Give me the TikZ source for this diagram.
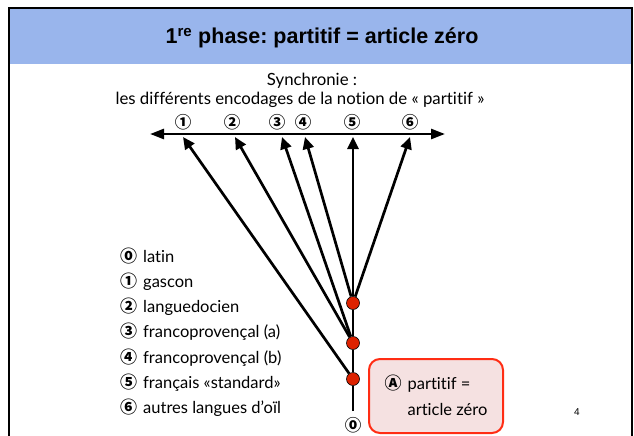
\documentclass[tikz,border=0pt]{standalone}
\usepackage{fontspec}
\setmainfont{Lato}[Ligatures=NoCommon]
\newfontfamily\titlefont{Liberation Sans}
\newfontfamily\circfont{Noto Sans CJK JP}
\usetikzlibrary{arrows.meta,positioning}
\definecolor{headerblue}{RGB}{153,181,236}
\definecolor{dotred}{RGB}{221,34,0}
\definecolor{boxred}{RGB}{255,45,20}
\definecolor{boxpink}{RGB}{245,225,225}
\newcommand{\cnum}[1]{{\circfont\bfseries\fontsize{17}{17}\selectfont #1}\hspace{6pt}}
\tikzset{
        branch/.style={
            draw, line width=2.7pt,
            -{Triangle[length=12pt,width=11pt]}
        },
        axis/.style={
            draw, line width=2.7pt,
            {Triangle[length=14pt,width=10pt]}-{Triangle[length=14pt,width=10pt]}
        },
        junction/.style={
            circle, draw=black, line width=0.6pt,
            fill=dotred, minimum size=13pt, inner sep=0pt
        },
        number/.style={
            inner sep=0pt, font=\circfont\bfseries\fontsize{16.5}{17}\selectfont
        },
        item/.style={
            anchor=west, inner sep=0pt,
            text height=12pt, text depth=4pt,
            font=\fontsize{16.5}{18}\selectfont
        },
        note/.style={
            rectangle, draw=boxred, line width=2pt,
            fill=boxpink, rounded corners=11pt,
            minimum width=134pt, minimum height=74pt,
            align=left, inner sep=5pt,
            font=\fontsize{16.5}{26}\selectfont
        }
    }

\begin{document}
\frenchspacing
\begin{tikzpicture}[x=1pt, y=-1pt]
    \useasboundingbox (0,0) rectangle (634,436);

    % frame and header
    \fill[headerblue] (9,8) rectangle (632,64);
    \draw[line width=2.5pt] (9,436) -- (9,8) -- (632,8) -- (632,436);
    \node[font=\titlefont\bfseries\fontsize{21.5}{24}\selectfont] (title) at (322,38)
        {1\textsuperscript{re} phase: partitif = article zéro};

    % synchrony axis
    \node[anchor=base, font=\fontsize{16.8}{18}\selectfont] (sync1) at (312,85) {Synchronie :};
    \node[anchor=base, font=\fontsize{16.8}{18}\selectfont] (sync2) at (300,104)
        {les différents encodages de la notion de « partitif »};
    \coordinate (axisL) at (150,134);
    \coordinate (axisR) at (445,134);
    \path[axis] (axisL) -- (axisR);

    \node[number] (n1) at (183,122) {①};
    \node[number] (n2) at (232,122) {②};
    \node[number] (n3) at (277,122) {③};
    \node[number] (n4) at (303,122) {④};
    \node[number] (n5) at (352,122) {⑤};
    \node[number] (n6) at (410,122) {⑥};

    \coordinate (t1) at (183,137);
    \coordinate (t2) at (235,137);
    \coordinate (t3) at (282,137);
    \coordinate (t4) at (305,137);
    \coordinate (t5) at (353,137);
    \coordinate (t6) at (410,137);

    % tree
    \coordinate (root) at (353,411);
    \node[junction] (d1) at (353,379) {};
    \node[junction] (d2) at (353,343) {};
    \node[junction] (d3) at (353,303) {};
    \node[number] (n0) at (353,425) {⓪};

    \draw[line width=2.7pt] (root) -- (d1) -- (d2) -- (d3);
    \path[branch] (d1) -- (t1);
    \path[branch] (d2) -- (t2);
    \path[branch] (d2) -- (t3);
    \path[branch] (d3) -- (t4);
    \path[branch] (d3) -- (t5);
    \path[branch] (d3) -- (t6);

    % legend
    \node[item] (l0) at (120,258) {\cnum{⓪}latin};
    \node[item, below=25.3pt of l0.west, anchor=west] (l1) {\cnum{①}gascon};
    \node[item, below=25.3pt of l1.west, anchor=west] (l2) {\cnum{②}languedocien};
    \node[item, below=25.3pt of l2.west, anchor=west] (l3) {\cnum{③}francoprovençal (a)};
    \node[item, below=25.3pt of l3.west, anchor=west] (l4) {\cnum{④}francoprovençal (b)};
    \node[item, below=25.3pt of l4.west, anchor=west] (l5) {\cnum{⑤}français «standard»};
    \node[item, below=25.3pt of l5.west, anchor=west] (l6) {\cnum{⑥}autres langues d’oïl};

    \node[note] (A) at (436,396)
        {\cnum{Ⓐ}partitif =\\\phantom{\cnum{Ⓐ}}article zéro};

    \node[font=\titlefont\fontsize{10}{12}\selectfont] (page) at (577,412) {4};

\end{tikzpicture}
\end{document}
